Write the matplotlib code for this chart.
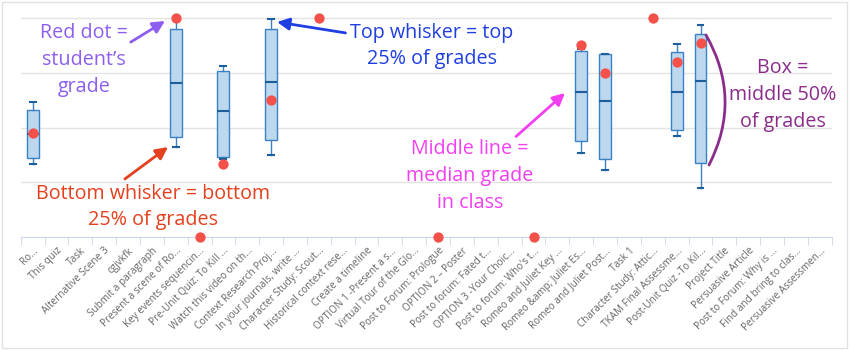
import numpy as np
import matplotlib.pyplot as plt
from matplotlib.patches import Rectangle

plt.rcParams['font.family'] = ['Open Sans', 'DejaVu Sans']

# Assignment names (x categories)
categories = [
    "Ro...", "This quiz", "Task", "Alternative Scene 3", "cgjvkfk",
    "Submit a paragraph", "Present a scene of Ro...", "Key events sequencin...",
    "Pre-Unit Quiz: To Kill ...", "Watch this video on th...",
    "Context Research Proj...", "In your journals, write ...",
    "Character Study: Scout...", "Historical context rese...",
    "Create a timeline", "OPTION 1 -Present a s...", "Virtual Tour of the Glo...",
    "Post to Forum: Prologue", "OPTION 2 \u2013 Poster", "Post to forum: Fated t...",
    "OPTION 3 -Your Choic...", "Post to forum: Who's t...",
    "Romeo and Juliet Key ...", "Romeo &amp; Juliet Es...",
    "Romeo and Juliet Post...", "Task 1", "Character Study: Attic...",
    "TKAM Final Assessme...", "Post-Unit Quiz -To Kil...", "Project Title",
    "Persuasive Article", "Post to Forum: Why is ...",
    "Find and bring to clas...", "Persuasive Assessmen...",
]

# Class grade distributions: category index -> (low, q1, median, q3, high)
box_idx = [0, 6, 8, 10, 23, 24, 27, 28]
box_low = [33.5, 41.3, 35.5, 37.5, 38.4, 30.8, 46.3, 22.5]
box_q1 = [36.0, 45.9, 36.7, 44.2, 43.8, 35.5, 48.8, 33.7]
box_med = [47.3, 70.6, 57.6, 71.0, 66.3, 62.2, 66.3, 71.3]
box_q3 = [58.2, 95.0, 76.0, 95.0, 85.2, 83.5, 84.4, 92.7]
box_high = [61.6, 99.5, 78.0, 99.5, 86.0, 83.7, 88.1, 97.1]

# Student's own grade
dot_idx = [0, 6, 7, 8, 10, 12, 17, 21, 23, 24, 26, 27, 28]
dot_val = [47.4, 100, 0, 33.4, 62.5, 100, 0, 0, 87.9, 75.0, 100, 79.9, 88.7]

W, H = 850, 351
fig = plt.figure(figsize=(W / 100, H / 100), dpi=100)
x0, x1 = 20.7, 831.7
y_zero, y_top = 237.0, 8.0
ax = fig.add_axes([x0 / W, 1 - y_zero / H, (x1 - x0) / W, (y_zero - y_top) / H])

n = len(categories)
step = (x1 - x0) / n
ppu = (y_zero - 18.3) / 100.0
ax.set_xlim(-0.5, n - 0.5)
ax.set_ylim(0, (y_zero - y_top) / ppu)

stats = []
for lo, q1, md, q3, hi in zip(box_low, box_q1, box_med, box_q3, box_high):
    stats.append(dict(whislo=lo, q1=q1, med=md, q3=q3, whishi=hi, fliers=[]))
ax.bxp(stats, positions=box_idx, widths=0.5, patch_artist=True,
       showfliers=False, manage_ticks=False,
       boxprops=dict(facecolor='#bcd7ee', edgecolor='#3a82c4', linewidth=1),
       medianprops=dict(color='#1d5e9c', linewidth=1.5),
       whiskerprops=dict(color='#3a82c4', linewidth=1),
       capprops=dict(color='#1d5e9c', linewidth=1.5),
       capwidths=0.25)

ax.scatter(dot_idx, dot_val, s=55, color='#f4514b', zorder=5, clip_on=False,
           linewidths=0)

# grid and axes styling
for v in [25, 50, 75, 100]:
    ax.axhline(v, color='#e3e3e3', linewidth=1, zorder=0)
for s in ['top', 'right', 'left']:
    ax.spines[s].set_visible(False)
ax.spines['bottom'].set_color('#ccd6eb')
ax.set_yticks([])
ax.set_xticks(np.arange(n))
ax.set_xticklabels(categories, rotation=45, ha='right', rotation_mode='anchor',
                   fontsize=7.2, color='#666666')
ax.tick_params(axis='x', which='major', length=0, pad=6)
ax.set_xticks(np.arange(n + 1) - 0.5, minor=True)
ax.tick_params(axis='x', which='minor', length=6, color='#ccd6eb')


def px(x, y):
    return ((x - x0) / step - 0.5, (y_zero - y) / ppu)


fs = 14.2
ls = 1.45
ap = dict(arrowstyle='-|>', lw=2, mutation_scale=18, shrinkA=0, shrinkB=0)

ax.annotate("Red dot =\nstudent\u2019s\ngrade", xy=px(165, 21), xytext=px(84, 60),
            ha='center', va='center', fontsize=fs, color='#8d5ef0',
            linespacing=ls, annotation_clip=False,
            arrowprops=dict(ap, color='#8d5ef0', relpos=(1.0, 0.72)))
ax.annotate("Bottom whisker = bottom\n25% of grades", xy=px(168, 147),
            xytext=px(153, 207), ha='center', va='center', fontsize=fs,
            color='#e4401e', linespacing=ls, annotation_clip=False,
            arrowprops=dict(ap, color='#e4401e', relpos=(0.38, 1.1)))
ax.annotate("Top whisker = top\n25% of grades", xy=px(277, 22),
            xytext=px(432, 46), ha='center', va='center', fontsize=fs,
            color='#1f3fe3', linespacing=ls, annotation_clip=False,
            arrowprops=dict(ap, color='#1f3fe3', relpos=(-0.03, 0.78)))
ax.annotate("Middle line =\nmedian grade\nin class", xy=px(565, 93),
            xytext=px(470, 176), ha='center', va='center', fontsize=fs,
            color='#f23ff2', linespacing=ls, annotation_clip=False,
            arrowprops=dict(ap, color='#f23ff2', relpos=(0.85, 1.02)))
ax.text(*px(783, 95), "Box =\nmiddle 50%\nof grades", ha='center', va='center',
        fontsize=fs, color='#8b2c8b', linespacing=ls)
ax.annotate("", xy=px(706, 35), xytext=px(709, 165),
            arrowprops=dict(arrowstyle='-', color='#8b2c8b', lw=2,
                            connectionstyle='arc3,rad=0.27',
                            shrinkA=0, shrinkB=0))

fig.patches.append(Rectangle((2 / W, 3 / H), (W - 5) / W, (H - 5) / H,
                             transform=fig.transFigure, fill=False,
                             edgecolor='#e2e2e2', linewidth=1))

fig.savefig("out.png", dpi=100)
